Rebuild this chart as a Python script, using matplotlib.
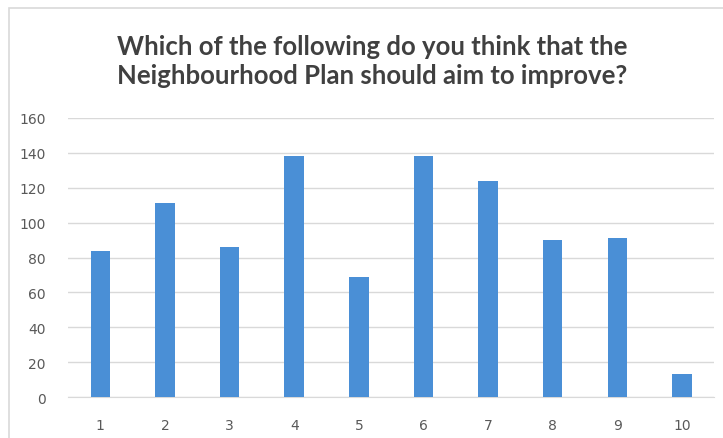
import matplotlib
matplotlib.use("Agg")
import matplotlib.pyplot as plt
from matplotlib.patches import Rectangle

categories = ["1", "2", "3", "4", "5", "6", "7", "8", "9", "10"]
counts = [84, 111, 86, 138, 69, 138, 124, 90, 91, 13]
y_ticks = [0, 20, 40, 60, 80, 100, 120, 140, 160]

title = "Which of the following do you think that the\nNeighbourhood Plan should aim to improve?"

fig = plt.figure(figsize=(7.23, 4.39), dpi=100)
ax = fig.add_axes([0.094, 0.093, 0.894, 0.636])

# chart frame like the spreadsheet export
fig.patches.append(Rectangle((0.012, -0.01), 1.0, 0.99, transform=fig.transFigure,
                             fill=False, edgecolor="#d9d9d9", linewidth=1.2))

x = range(len(categories))
ax.bar(x, counts, width=0.3, color="#4a8fd6", zorder=3)

ax.set_xlim(-0.5, len(categories) - 0.5)
ax.set_ylim(0, 160)
ax.set_yticks(y_ticks)
ax.set_xticks(list(x))
ax.set_xticklabels(categories)
ax.grid(axis="y", color="#d9d9d9", linewidth=1, zorder=0)

for side in ["top", "right", "left"]:
    ax.spines[side].set_visible(False)
ax.spines["bottom"].set_color("#d9d9d9")
ax.tick_params(axis="both", length=0, labelsize=10, labelcolor="#595959")
ax.tick_params(axis="x", pad=15)
ax.tick_params(axis="y", pad=16)

fig.text(0.515, 0.86, title, ha="center", va="center", fontsize=18.5, fontweight="bold",
         color="#404040", family="Lato", linespacing=1.25)

plt.savefig("out.png", dpi=100)
